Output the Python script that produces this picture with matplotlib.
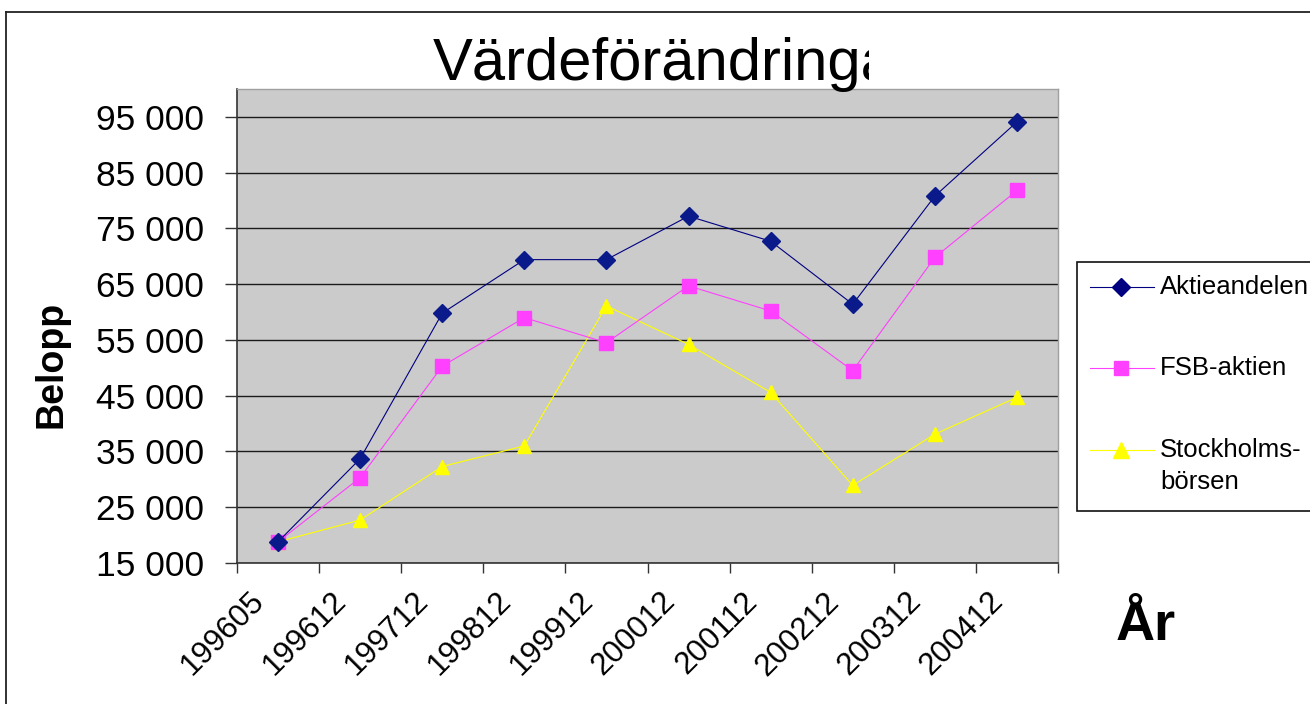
import matplotlib
matplotlib.use("Agg")
import matplotlib.pyplot as plt
from matplotlib.patches import Rectangle
from matplotlib.lines import Line2D
from matplotlib.ticker import FuncFormatter, FixedLocator
from matplotlib.transforms import Bbox, ScaledTranslation

categories = ['199605', '199612', '199712', '199812', '199912',
              '200012', '200112', '200212', '200312', '200412']
aktieandelen = [18800, 33700, 59800, 69400, 69400, 77200, 72700, 61400, 80800, 94100]
fsb_aktien = [18800, 30300, 50300, 59000, 54500, 64700, 60200, 49500, 69800, 81800]
stockholmsborsen = [18800, 22700, 32300, 36000, 61100, 54200, 45600, 28900, 38100, 44700]
yticks = [15000, 25000, 35000, 45000, 55000, 65000, 75000, 85000, 95000]

W, H = 1310, 704
plt.rcParams['font.family'] = ['Liberation Sans', 'DejaVu Sans']
fig = plt.figure(figsize=(W / 100, H / 100), dpi=100)
fig.patch.set_facecolor('white')

def fx(x):
    return x / W

def fy(y):
    return 1 - y / H

# outer chart border (continues beyond the image edge)
fig.add_artist(Line2D([fx(6), fx(6)], [fy(12), fy(710)], transform=fig.transFigure,
                      color='#222222', lw=1.3))
fig.add_artist(Line2D([fx(6), fx(1320)], [fy(12), fy(12)], transform=fig.transFigure,
                      color='#222222', lw=1.3))

L, T, R, B = 237, 89, 1058, 563
ax = fig.add_axes([fx(L), fy(B), fx(R - L), (B - T) / H])
ax.set_facecolor('#cbcbcb')

x = list(range(len(categories)))
ax.plot(x, aktieandelen, color='#000080', lw=0.8, marker='D', markersize=9.5,
        markerfacecolor='#0a1a8a', markeredgecolor='#0a1a8a', zorder=5)
ax.plot(x, fsb_aktien, color='#ff40ff', lw=0.8, marker='s', markersize=10,
        markerfacecolor='#ff40ff', markeredgecolor='#ff40ff', zorder=4)
ax.plot(x, stockholmsborsen, color='#ffff00', lw=0.8, marker='^', markersize=10.5,
        markerfacecolor='#ffff00', markeredgecolor='#ffff00', zorder=3)

ax.set_xlim(-0.5, len(categories) - 0.5)
ax.set_ylim(15000, 100000)
ax.set_yticks(yticks)
ax.yaxis.set_major_formatter(FuncFormatter(lambda v, p: f"{int(v):,}".replace(',', ' ')))
ax.grid(axis='y', color='#1a1a1a', lw=1.0)
ax.set_axisbelow(True)
ax.tick_params(axis='y', direction='out', length=9, width=1, color='#333333',
               labelsize=25.5, pad=15)

# category boundaries as tick marks, labels at category centres
ax.xaxis.set_major_locator(FixedLocator([i - 0.5 for i in range(len(categories) + 1)]))
ax.xaxis.set_major_formatter(FuncFormatter(lambda v, p: ''))
ax.xaxis.set_minor_locator(FixedLocator(x))
ax.set_xticklabels(categories, minor=True)
ax.tick_params(axis='x', which='major', direction='out', length=7, width=1, color='#333333')
ax.tick_params(axis='x', which='minor', length=0, labelsize=22.5, pad=10)
for lab in ax.get_xticklabels(minor=True):
    lab.set_rotation(45)
    lab.set_rotation_mode('anchor')
    lab.set_ha('right')
    lab.set_va('center')
    lab.set_transform(lab.get_transform() + ScaledTranslation(-18 / 100, -20 / 100, fig.dpi_scale_trans))

for side in ['top', 'right']:
    ax.spines[side].set_color('#a0a0a0')
    ax.spines[side].set_linewidth(1)
for side in ['left', 'bottom']:
    ax.spines[side].set_color('#333333')
    ax.spines[side].set_linewidth(1.2)

# title (clipped like the original)
title = fig.text(fx(433), fy(80), 'Värdeförändringar', fontsize=43, ha='left', va='baseline')
title.set_clip_box(Bbox.from_extents(0, 0, 869, H))
title.set_clip_on(True)

fig.text(fx(52), fy(364), 'Belopp', fontsize=27, fontweight='bold', rotation=90,
         ha='center', va='center')
fig.text(fx(1116), fy(640), 'År', fontsize=39, fontweight='bold', ha='left', va='baseline')

# legend
fig.add_artist(Rectangle((fx(1077), fy(511)), fx(260), (511 - 262) / H,
                         transform=fig.transFigure, facecolor='white',
                         edgecolor='#111111', lw=1.2))
entries = [('Aktieandelen', '#000080', 'D', 9, 287),
           ('FSB-aktien', '#ff40ff', 's', 10, 368),
           ('Stockholms-\nbörsen', '#ffff00', '^', 11, 450)]
for label, col, mk, ms, yy in entries:
    fig.add_artist(Line2D([fx(1090), fx(1154)], [fy(yy), fy(yy)], transform=fig.transFigure,
                          color=col, lw=0.8))
    fig.add_artist(Line2D([fx(1121)], [fy(yy)], transform=fig.transFigure, color=col,
                          marker=mk, markersize=ms, markerfacecolor=col, markeredgecolor=col,
                          linestyle='none'))
    lines = label.split('\n')
    for k, line in enumerate(lines):
        fig.text(fx(1160), fy(yy + 32 * k), line, fontsize=18.5, ha='left', va='center')

fig.savefig('out.png', dpi=100, facecolor='white')
